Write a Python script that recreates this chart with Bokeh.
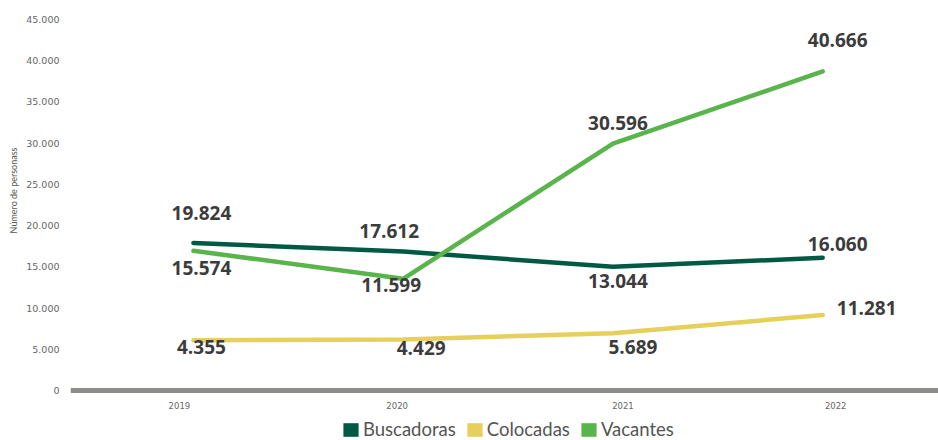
import math
from bokeh.plotting import figure
from bokeh.models import Range1d, FixedTicker, Legend, LegendItem, Title, Span, ColumnDataSource
from bokeh.core.properties import value
from bokeh.embed import file_html
from bokeh.resources import INLINE

# ---- data ----
years = [2019, 2020, 2021, 2022]
x_tick_labels = ["2019", "2020", "2021", "2022"]

series_names = ["Buscadoras", "Colocadas", "Vacantes"]
buscadoras = [17900, 16850, 15000, 16100]
colocadas = [6100, 6200, 6950, 9150]
vacantes = [16950, 13550, 29950, 38700]

buscadoras_labels = ["19.824", "17.612", "13.044", "16.060"]
colocadas_labels = ["4.355", "4.429", "5.689", "11.281"]
vacantes_labels = ["15.574", "11.599", "30.596", "40.666"]

y_ticks = [0, 5000, 10000, 15000, 20000, 25000, 30000, 35000, 40000, 45000]
y_tick_labels = ["0", "5.000", "10.000", "15.000", "20.000", "25.000",
                 "30.000", "35.000", "40.000", "45.000"]
y_axis_title = "Número de personass"

# ---- styling ----
colors = {"Buscadoras": "#005a43", "Colocadas": "#e6cf5b", "Vacantes": "#5ab44c"}
label_offsets = {
    "Buscadoras": ([8, -14, 5, 15], [-30, -21, 14, -14]),
    "Colocadas": ([8, 18, 20, 44], [7, 9, 14, -7]),
    "Vacantes": ([8, -12, 5, 15], [17, 6, -21, -31]),
}
year_label_dx = [-14, -6, 10, 13]
tick_font = "DejaVu Sans"
tick_color = "#666666"

# The frame runs to the bottom of the figure; the value 0 sits 50px above it,
# leaving room for the year labels and the legend inside the frame.
p = figure(width=938, height=440,
           x_range=Range1d(2018.414, 2022.552), y_range=Range1d(-6065, 45000),
           output_backend="svg", toolbar_location=None,
           min_border_left=69, min_border_right=0, min_border_top=19, min_border_bottom=0)
p.outline_line_color = None
p.xgrid.visible = False
p.ygrid.visible = False
p.xaxis.visible = False
p.background_fill_color = "white"
p.border_fill_color = "white"

# y axis
p.yaxis.ticker = FixedTicker(ticks=y_ticks)
p.yaxis.major_label_overrides = {t: l for t, l in zip(y_ticks, y_tick_labels)}
p.yaxis.axis_line_color = None
p.yaxis.major_tick_line_color = None
p.yaxis.minor_tick_line_color = None
p.yaxis.major_tick_out = 0
p.yaxis.major_tick_in = 0
p.yaxis.major_label_standoff = 11
p.yaxis.major_label_text_font = tick_font
p.yaxis.major_label_text_font_size = "9.5px"
p.yaxis.major_label_text_color = tick_color

# y axis title, placed in the left panel
p.add_layout(Title(text=y_axis_title, align="right", offset=128,
                   text_font="Lato", text_font_size="9px", text_font_style="normal",
                   text_color="#555555", standoff=10), "left")

# baseline (x axis line) at value 0
p.add_layout(Span(location=0, dimension="width", line_color="#8c8c88", line_width=5))

# year labels under the baseline
ysrc = ColumnDataSource(dict(x=years, y=[0] * len(years), t=x_tick_labels, dx=year_label_dx))
p.text(x="x", y="y", text="t", x_offset="dx", y_offset=15, source=ysrc,
       text_align="center", text_baseline="middle",
       text_font=value(tick_font), text_font_size="8.5px", text_color=tick_color)

series = {"Buscadoras": (buscadoras, buscadoras_labels),
          "Colocadas": (colocadas, colocadas_labels),
          "Vacantes": (vacantes, vacantes_labels)}

legend_items = []
for name in series_names:
    vals, labs = series[name]
    p.line(years, vals, line_width=4.5, color=colors[name],
           line_cap="round", line_join="round")
    dx, dy = label_offsets[name]
    src = ColumnDataSource(dict(x=years, y=vals, t=labs, dx=dx, dy=dy))
    p.text(x="x", y="y", text="t", x_offset="dx", y_offset="dy", source=src,
           text_align="center", text_baseline="middle",
           text_font=value("Open Sans"), text_font_style="bold",
           text_font_size="19px", text_color="#3c3c3c")
    # legend swatch: an invisible quad renderer whose legend glyph is a filled box
    r = p.quad(left=years, right=years, bottom=vals, top=vals,
               fill_color=colors[name], line_color=None, visible=False)
    legend_items.append(LegendItem(label=name, renderers=[r]))

legend = Legend(items=legend_items, orientation="horizontal", location=(271, 0),
                border_line_color=None, background_fill_alpha=0,
                padding=0, margin=0, spacing=9, label_standoff=3,
                glyph_width=19, glyph_height=17, label_height=17,
                label_text_font="Lato", label_text_font_size="18.5px",
                label_text_color="#555555")
p.add_layout(legend, "center")

open("out.html", "w").write(file_html(p, INLINE))
